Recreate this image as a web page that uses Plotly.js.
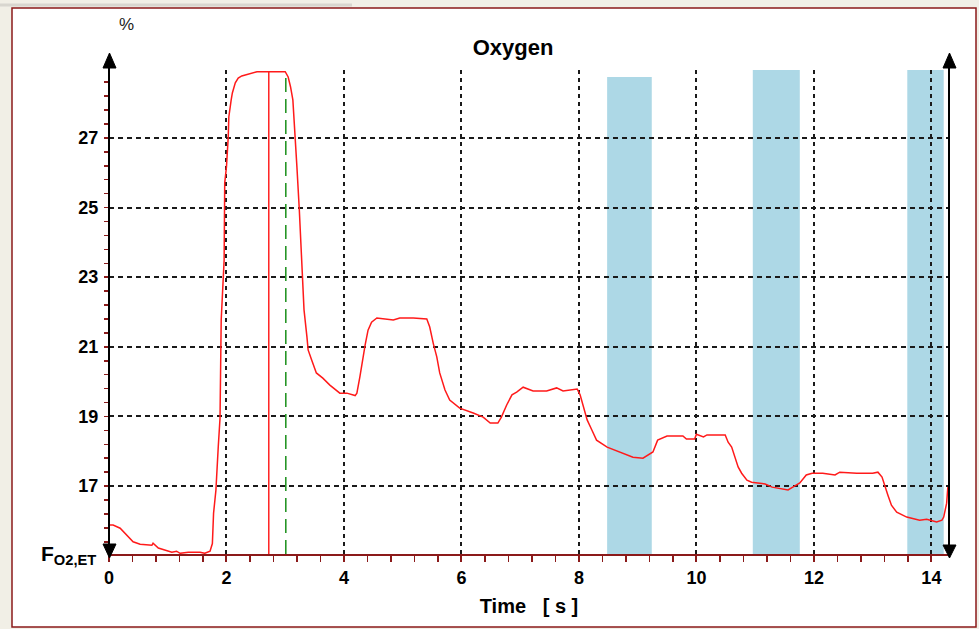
<!DOCTYPE html>
<html>
<head>
<meta charset="utf-8">
<script src="https://cdn.plot.ly/plotly-3.0.1.min.js"></script>
<style>
  html, body { margin: 0; padding: 0; background: #f1efe6; }
  #chart { width: 979px; height: 629px; }
</style>
</head>
<body>
<div id="chart"></div>
<script>
// ---- data ----
const timeSec = [0,0.07,0.19,0.27,0.41,0.53,0.73,0.75,0.84,1.07,1.15,1.21,1.35,1.55,1.63,1.72,1.76,1.78,1.82,1.86,1.89,1.91,1.93,1.96,1.97,2.0,2.03,2.04,2.08,2.1,2.15,2.2,2.26,2.37,2.52,2.71,3.0,3.05,3.09,3.13,3.15,3.18,3.2,3.24,3.28,3.29,3.32,3.37,3.39,3.45,3.53,3.64,3.76,3.93,4.05,4.19,4.22,4.27,4.3,4.36,4.41,4.47,4.56,4.84,4.95,5.18,5.41,5.46,5.52,5.58,5.63,5.72,5.8,5.97,6.2,6.37,6.49,6.62,6.68,6.77,6.86,6.94,7.05,7.22,7.45,7.62,7.73,7.97,8.02,8.07,8.14,8.22,8.3,8.48,8.7,8.92,9.09,9.26,9.34,9.5,9.77,9.83,9.97,10.0,10.12,10.18,10.49,10.54,10.6,10.66,10.71,10.77,10.86,10.94,11.17,11.29,11.42,11.56,11.64,11.76,11.87,11.97,12.15,12.36,12.44,12.73,13.0,13.09,13.16,13.21,13.26,13.32,13.41,13.58,13.8,13.92,14.09,14.18,14.21,14.26,14.28];
const oxygenPct = [15.88,15.88,15.79,15.65,15.4,15.33,15.3,15.36,15.22,15.1,15.13,15.07,15.1,15.1,15.07,15.13,15.35,16.22,16.88,18.13,18.95,21.77,22.63,23.49,25.71,26.17,27.03,27.6,28.09,28.29,28.58,28.72,28.78,28.84,28.9,28.9,28.9,28.75,28.47,28.09,27.43,26.57,26.14,24.93,23.58,22.83,22.06,21.28,20.91,20.62,20.25,20.1,19.9,19.67,19.67,19.6,19.67,20.13,20.48,21.05,21.48,21.71,21.83,21.77,21.83,21.83,21.8,21.57,21.1,20.71,20.25,19.76,19.47,19.24,19.1,18.98,18.81,18.81,18.98,19.33,19.62,19.7,19.84,19.73,19.73,19.82,19.73,19.79,19.62,19.33,18.9,18.61,18.32,18.12,17.98,17.83,17.8,17.98,18.32,18.44,18.44,18.35,18.35,18.49,18.41,18.47,18.47,18.26,18.12,17.83,17.55,17.37,17.17,17.11,17.06,16.97,16.94,16.89,16.97,17.09,17.32,17.37,17.37,17.32,17.4,17.37,17.37,17.4,17.26,17.03,16.74,16.45,16.25,16.11,16.02,16.05,15.97,16.02,16.11,16.51,16.97];

const bandStart = [8.48, 10.96, 13.59];
const bandEnd   = [9.24, 11.76, 14.21];
const bandTop   = [28.75, 28.95, 28.95];

const cursorRedX = 2.72;
const cursorGreenX = 3.01;
const cursorTop = 28.9;

const xTickVals = [0, 2, 4, 6, 8, 10, 12, 14];
const yTickVals = [17, 19, 21, 23, 25, 27];

const xRange = [0, 14.3];
const yRange = [15.05, 28.95];

// ---- pixel helpers for decoration (paper coords) ----
const L = 109, R = 949, T = 70, B = 554;
const px = v => (v - L) / (R - L);
const py = v => (B - v) / (B - T);
function tri(pts) {
  return 'M ' + pts.map(p => px(p[0]) + ' ' + py(p[1])).join(' L ') + ' Z';
}

const dark = '#8b1a1a';
const FONT = 'Arial, "Liberation Sans", sans-serif';
const shapes = [];

// frame
shapes.push({type:'rect', xref:'paper', yref:'paper', layer:'below',
  x0: px(12), x1: px(976), y0: py(627), y1: py(8),
  fillcolor:'#ffffff', line:{color: dark, width:1.5}});
shapes.push({type:'line', xref:'paper', yref:'paper', layer:'below',
  x0: px(0), x1: px(352), y0: py(5), y1: py(5), line:{color:'#d8d6cf', width:3}});

// bands
for (let i = 0; i < bandStart.length; i++) {
  shapes.push({type:'rect', xref:'x', yref:'y', layer:'below',
    x0: bandStart[i], x1: bandEnd[i], y0: yRange[0], y1: bandTop[i],
    fillcolor:'#add8e6', line:{width:0}});
}

// axes with arrows
shapes.push({type:'line', xref:'paper', yref:'paper', x0:0, x1:0, y0:py(556), y1:py(60), line:{color:'#000', width:2}});
shapes.push({type:'line', xref:'paper', yref:'paper', x0:1, x1:1, y0:py(556), y1:py(60), line:{color:'#000', width:2}});
shapes.push({type:'path', xref:'paper', yref:'paper', path: tri([[109.5,53],[103,68],[116,68]]), fillcolor:'#000', line:{color:'#000', width:1}});
shapes.push({type:'path', xref:'paper', yref:'paper', path: tri([[109.5,558],[103,544],[116,544]]), fillcolor:'#000', line:{color:'#000', width:1}});
shapes.push({type:'path', xref:'paper', yref:'paper', path: tri([[949.5,53],[943,68],[956,68]]), fillcolor:'#000', line:{color:'#000', width:1}});
shapes.push({type:'path', xref:'paper', yref:'paper', path: tri([[949.5,558],[943,545],[956,545]]), fillcolor:'#000', line:{color:'#000', width:1}});

const traces = [
  {x:[cursorGreenX, cursorGreenX], y:[yRange[0], cursorTop], mode:'lines',
   line:{color:'#1a8f1a', width:1.5, dash:'14px,7px'}, hoverinfo:'skip'},
  {x:[cursorRedX, cursorRedX], y:[yRange[0], cursorTop], mode:'lines',
   line:{color:'#ff2020', width:1.5}, hoverinfo:'skip'},
  {x: timeSec, y: oxygenPct, mode:'lines', line:{color:'#ff1a1a', width:1.5}, hoverinfo:'skip'}
];

const tickFont = {family: FONT, size:18, color:'#000', weight:'bold'};

const layout = {
  width: 979, height: 629,
  margin: {l: L, r: 979 - R, t: T, b: 629 - B},
  paper_bgcolor: '#f1efe6',
  plot_bgcolor: 'rgba(0,0,0,0)',
  showlegend: false,
  title: {text:'Oxygen', x: 513/979, xref:'container', xanchor:'center',
          y: 1 - 47/629, yref:'container', yanchor:'middle',
          font:{family: FONT, size:22, color:'#000', weight:'bold'}},
  xaxis: {
    range: xRange, tickvals: xTickVals, ticktext: xTickVals.map(String),
    showline:true, linecolor: dark, linewidth:2,
    ticks:'outside', ticklen:6, tickwidth:2, tickcolor: dark,
    minor:{tick0:0, dtick:0.4, ticks:'outside', ticklen:6, tickwidth:1.5, tickcolor: dark, showgrid:false},
    showgrid:true, gridcolor:'#1a1a1a', gridwidth:2, griddash:'4px,4px',
    zeroline:false, tickfont: tickFont,
    title:{text:'Time\u00a0\u00a0\u00a0[ s ]', standoff: 12,
           font:{family: FONT, size:20, color:'#000', weight:'bold'}}
  },
  yaxis: {
    range: yRange, tickvals: yTickVals, ticktext: yTickVals.map(String),
    showline:false,
    ticks:'outside', ticklen:4, tickwidth:1.5, tickcolor: dark,
    minor:{tick0:15, dtick:0.4, ticks:'outside', ticklen:4, tickwidth:1.5, tickcolor: dark, showgrid:false},
    showgrid:true, gridcolor:'#1a1a1a', gridwidth:2, griddash:'5px,4px',
    zeroline:false, tickfont: tickFont, ticklabelstandoff: 2
  },
  shapes: shapes,
  annotations: [
    {xref:'paper', yref:'paper', x: px(126), y: py(25), text:'%', showarrow:false,
     font:{family: FONT, size:17, color:'#222'}, xanchor:'center', yanchor:'middle'},
    {xref:'paper', yref:'paper', x: px(98), y: py(555), text:'<b>F<sub>O2,ET</sub></b>', showarrow:false,
     font:{family: FONT, size:21, color:'#000'}, xanchor:'right', yanchor:'middle'}
  ]
};

Plotly.newPlot('chart', traces, layout, {staticPlot:true, displayModeBar:false});
</script>
</body>
</html>
